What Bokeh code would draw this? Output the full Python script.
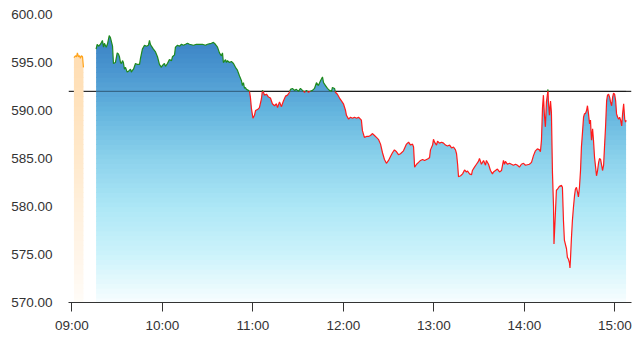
import numpy as np
from bokeh.plotting import figure
from bokeh.models import Span, FixedTicker, PrintfTickFormatter, ColumnDataSource
from bokeh.embed import file_html
from bokeh.resources import INLINE

# ---------------- data ----------------
REF = 592.0  # previous close

# minutes after 09:00
pre_t = [1.3, 2.3, 3.0, 3.6, 4.3, 5.0, 5.6, 6.3, 7.0, 7.6]
pre_v = [595.5, 595.7, 595.6, 596.0, 595.6, 595.7, 595.45, 595.7, 595.6, 594.5]

main_t = [16.0, 16.7, 17.6, 18.9, 20.2, 20.9, 21.5, 22.7, 23.5, 24.7, 25.5, 26.9, 27.5, 28.8, 30.0,
          30.8, 31.5, 32.2, 32.8, 33.5, 34.1, 34.8, 35.5, 36.6, 37.5, 38.8, 39.4, 40.1, 40.8, 42.1,
          43.4, 44.8, 45.4, 46.7, 48.1, 49.4, 50.7, 51.4, 52.0, 52.7, 54.0, 55.4, 56.7, 58.0, 59.3,
          60.0, 61.3, 62.0, 63.3, 64.6, 66.0, 66.6, 68.0, 68.6, 70.0, 71.3, 72.6, 73.9, 75.3, 76.6,
          77.9, 80.6, 82.5, 84.5, 86.5, 88.5, 89.8, 92.4, 93.8, 95.1, 96.5, 97.8, 99.1, 99.8, 100.4,
          101.8, 102.4, 103.1, 104.4, 105.7, 107.1, 108.4, 109.7, 111.1, 112.4, 113.0, 113.7, 114.4,
          115.0, 115.7, 117.0, 117.7, 118.3, 119.0, 120.0, 121.0, 121.7, 123.0, 124.3, 125.6, 126.3,
          127.0, 127.6, 129.0, 130.3, 131.6, 132.9, 134.3, 135.6, 136.3, 137.6, 138.9, 140.2, 141.6,
          142.9, 144.2, 144.9, 146.2, 147.5, 148.8, 150.2, 151.5, 152.8, 154.2, 155.5, 156.8, 158.1,
          159.5, 160.8, 162.1, 163.4, 164.8, 166.1, 166.8, 168.1, 169.4, 170.7, 172.1, 172.7, 174.1,
          174.7, 176.0, 177.4, 178.7, 180.0, 181.4, 182.0, 183.4, 184.7, 186.0, 187.3, 188.7, 190.0,
          191.3, 191.9, 192.6, 193.9, 195.3, 196.6, 197.9, 199.3, 200.6, 201.9, 203.2, 204.6, 205.9,
          207.2, 208.5, 209.9, 211.2, 212.5, 213.8, 215.2, 216.5, 217.8, 219.8, 221.8, 223.2, 224.5,
          225.8, 226.5, 227.2, 228.5, 229.8, 231.1, 232.5, 233.8, 235.1, 236.4, 237.1, 237.7, 239.1,
          239.7, 240.4, 241.7, 242.4, 243.7, 245.1, 246.4, 247.7, 249.0, 250.4, 251.7, 253.0, 254.3,
          255.0, 255.7, 256.3, 257.7, 259.0, 260.3, 261.6, 262.3, 263.6, 264.9, 265.5, 266.9, 268.2,
          269.5, 270.2, 271.5, 272.9, 274.2, 274.8, 276.2, 277.5, 278.8, 279.5, 280.8, 282.1, 283.5,
          284.8, 286.1, 286.8, 287.4, 288.8, 290.1, 291.4, 292.7, 294.1, 295.4, 296.7, 298.0, 299.4,
          300.7, 302.0, 303.3, 304.7, 306.0, 307.3, 308.6, 310.0, 310.6, 311.3, 312.0, 312.6, 313.3,
          313.9, 314.6, 315.3, 315.6, 315.9, 316.6, 317.3, 317.9, 318.6, 319.3, 319.6, 320.6, 321.2,
          321.9, 323.2, 324.6, 325.2, 325.9, 326.5, 327.9, 328.5, 329.2, 329.9, 330.2, 330.5, 331.2,
          331.8, 332.5, 333.2, 333.8, 334.5, 335.2, 335.8, 336.5, 337.2, 337.8, 338.5, 339.2, 339.8,
          340.5, 341.2, 341.8, 342.5, 343.2, 343.8, 344.2, 344.5, 345.2, 345.8, 346.5, 347.2, 347.8,
          348.5, 349.2, 349.8, 350.5, 351.1, 351.8, 352.5, 353.1, 353.8, 354.5, 355.1, 355.8, 356.5,
          357.1, 357.8, 358.5, 359.1, 359.8, 360.5, 361.1, 361.8, 362.5, 363.1, 363.8, 364.5, 365.1,
          365.8, 366.5, 367.1, 367.4]
main_v = [596.4, 596.9, 596.7, 596.9, 597.3, 596.6, 597.0, 596.6, 596.9, 597.8, 597.6, 596.7, 594.9, 595.0, 596.0,
          595.9, 595.6, 595.0, 594.9, 595.2, 595.0, 594.3, 594.5, 594.0, 594.1, 594.3, 594.0, 594.2, 594.3, 594.9,
          594.8, 594.8, 595.4, 596.4, 596.8, 596.7, 596.8, 597.3, 596.9, 596.7, 596.4, 596.1, 595.6, 594.8, 594.5,
          594.7, 594.9, 594.6, 594.9, 595.3, 595.2, 595.6, 595.8, 596.6, 596.8, 596.7, 596.9, 596.8, 596.9, 597.0,
          596.9, 596.8, 596.9, 596.9, 596.9, 596.8, 596.9, 597.0, 597.1, 596.9, 596.6, 596.0, 595.7, 596.0, 595.0,
          595.3, 595.0, 595.2, 595.0, 595.1, 594.9, 594.5, 594.2, 593.6, 593.1, 592.6, 592.9, 592.3,
          592.4, 592.2, 592.1, 592.0, 591.4, 590.2, 589.2, 589.5, 590.0, 590.1, 590.3, 591.2, 592.1,
          591.9, 591.6, 591.7, 591.4, 591.3, 590.7, 590.5, 590.7, 590.3, 590.9, 590.4, 591.0, 591.5,
          591.6, 591.9, 592.2, 592.3, 592.1, 592.2, 592.0, 592.3, 592.1, 591.9, 592.1, 591.9, 592.0,
          592.1, 592.3, 592.9, 592.6, 593.1, 593.5, 592.9, 592.6, 592.3, 592.1, 592.0, 592.4, 592.3,
          591.9, 591.7, 591.3, 591.0, 590.7, 590.0, 589.5, 589.1, 589.3, 589.2, 589.3, 589.2, 589.3,
          589.1, 589.0, 587.9, 587.2, 587.3, 587.3, 587.4, 587.6, 587.4, 587.2, 587.0, 586.5, 585.6,
          584.9, 584.5, 584.8, 585.2, 585.6, 585.9, 585.7, 585.4, 585.5, 585.8, 586.5, 586.7, 586.4,
          586.5, 586.2, 584.1, 584.4, 584.6, 584.8, 584.9, 584.8, 584.9, 585.0, 585.1, 585.9, 586.4,
          587.0, 586.7, 586.4, 586.8, 586.6, 586.7, 586.6, 586.4, 586.3, 586.4, 586.1, 586.2, 585.9,
          585.5, 584.4, 583.1, 583.2, 583.4, 583.8, 583.6, 583.7, 583.4, 583.3, 583.75, 584.1, 584.4,
          584.7, 585.0, 584.4, 584.8, 584.3, 584.8, 584.4, 583.75, 583.4, 583.6, 583.75, 583.9, 583.6,
          583.75, 584.8, 584.4, 584.7, 584.4, 584.5, 584.4, 584.3, 584.4, 584.3, 584.1, 584.4, 584.5,
          584.3, 584.35, 584.4, 584.6, 585.3, 585.8, 586.0, 585.9, 585.7, 586.9, 590.3, 591.6, 589.4,
          588.3, 590.9, 591.7, 592.2, 590.9, 589.5, 591.0, 589.8, 583.5, 580.0, 576.1, 579.5, 581.7,
          581.8, 582.1, 582.2, 582.0, 578.5, 576.5, 575.6, 574.7, 574.5, 574.1, 573.6, 574.4, 576.8,
          578.5, 579.9, 581.1, 581.8, 582.0, 581.5, 581.0, 582.0, 583.75, 586.2, 587.7, 589.3, 589.65,
          589.7, 590.0, 590.5, 589.65, 588.6, 589.0, 587.7, 586.9, 588.1, 586.9, 585.1, 584.1, 583.2,
          583.75, 584.6, 585.0, 584.9, 584.4, 583.75, 584.3, 586.2, 588.3, 591.0, 591.6, 591.7, 591.4,
          590.9, 590.5, 591.4, 591.8, 591.7, 591.0, 589.65, 589.3, 589.1, 589.3, 589.0, 588.4, 589.65,
          590.7, 589.1, 588.8, 589.0]

tick_minutes = [0, 60, 120, 180, 240, 300, 360]
tick_labels = ["09:00", "10:00", "11:00", "12:00", "13:00", "14:00", "15:00"]
y_ticks = [570, 575, 580, 585, 590, 595, 600]

Y0, Y1 = 570.0, 600.42
X0, X1 = -2.3, 371.0

# gradient stops (value -> rgb)
blue_stops = [(570, (248, 254, 255)), (572, (230, 249, 253)), (575, (205, 243, 251)),
              (580, (173, 231, 246)), (585, (140, 210, 236)), (590, (100, 181, 222)),
              (592, (88, 165, 215)), (595, (70, 145, 205)), (598, (58, 128, 196))]
orange_stops = [(570, (255, 252, 248)), (575, (255, 245, 233)), (580, (255, 240, 220)),
                (585, (255, 233, 204)), (590, (255, 227, 190)), (596, (255, 221, 178))]


def stop_color(stops, y):
    vals = [s[0] for s in stops]
    rgb = []
    for k in range(3):
        rgb.append(int(round(np.interp(y, vals, [s[1][k] for s in stops]))))
    return "#%02x%02x%02x" % tuple(rgb)


def insert_crossings(t, v, levels):
    tt = [t[0]]
    vv = [v[0]]
    for i in range(len(t) - 1):
        t0, v0, t1, v1 = t[i], v[i], t[i + 1], v[i + 1]
        cs = []
        for L in levels:
            if (v0 - L) * (v1 - L) < 0:
                cs.append(t0 + (L - v0) / (v1 - v0) * (t1 - t0))
        for c in sorted(cs):
            tt.append(c)
            vv.append(v0 + (c - t0) / (t1 - t0) * (v1 - v0))
        tt.append(t1)
        vv.append(v1)
    return np.array(tt), np.array(vv)


p = figure(width=641, height=349, output_backend="svg", toolbar_location=None,
           x_range=(X0, X1), y_range=(Y0, Y1),
           min_border_left=68, min_border_right=10, min_border_top=10, min_border_bottom=47)
p.outline_line_color = None
p.xgrid.visible = False
p.ygrid.visible = False
p.background_fill_color = "white"
p.border_fill_color = "white"

# reference line (under everything)
p.add_layout(Span(location=REF, dimension="width", line_color="black", line_width=1, level="underlay"))


def gradient_fill(t, v, stops, step=0.5, ov=0.08):
    t = np.asarray(t, float)
    v = np.asarray(v, float)
    lo = Y0
    while lo < v.max():
        hi = lo + step
        base = Y0 if lo <= Y0 else lo - ov
        tt, vv = insert_crossings(t, v, [base, hi])
        y2 = np.clip(vv, base, hi)
        y1 = np.full(len(tt), base)
        p.varea(x=tt, y1=y1, y2=y2, fill_color=stop_color(stops, lo + step / 2))
        lo = hi


gradient_fill(pre_t, pre_v, orange_stops)
gradient_fill(main_t, main_v, blue_stops)

# ref line seen through the blue area
p.segment(x0=[main_t[0]], x1=[main_t[-1]], y0=[REF], y1=[REF], line_color="black", line_alpha=0.45, line_width=1)

# pre-market line
p.line(pre_t, pre_v, line_color="#ffa31a", line_width=1.2)

# main line colored by ref
tt, vv = insert_crossings(main_t, main_v, [REF])
xs, ys, cols = [], [], []
cur_x, cur_y = [tt[0]], [vv[0]]
cur_up = (vv[0] + vv[1]) / 2 >= REF
for i in range(1, len(tt)):
    up = (vv[i - 1] + vv[i]) / 2 >= REF
    if up != cur_up:
        xs.append(cur_x); ys.append(cur_y); cols.append("#1e8a1e" if cur_up else "#ff1a1a")
        cur_x, cur_y = [tt[i - 1]], [vv[i - 1]]
        cur_up = up
    cur_x.append(tt[i]); cur_y.append(vv[i])
xs.append(cur_x); ys.append(cur_y); cols.append("#1e8a1e" if cur_up else "#ff1a1a")
p.multi_line(xs="xs", ys="ys", line_color="c", line_width=1.2,
             source=ColumnDataSource(dict(xs=xs, ys=ys, c=cols)))

# axes
xa = p.xaxis[0]
xa.ticker = FixedTicker(ticks=tick_minutes)
xa.major_label_overrides = {m: l for m, l in zip(tick_minutes, tick_labels)}
xa.axis_line_color = "#333333"
xa.major_tick_line_color = "#333333"
xa.major_tick_in = 0
xa.major_tick_out = 9
xa.minor_tick_line_color = None
xa.major_label_text_font = "Liberation Sans"
xa.major_label_text_font_size = "13.5px"
xa.major_label_text_color = "#333333"
xa.major_label_standoff = 6

ya = p.yaxis[0]
ya.ticker = FixedTicker(ticks=y_ticks)
ya.formatter = PrintfTickFormatter(format="%.2f")
ya.axis_line_color = None
ya.major_tick_line_color = None
ya.minor_tick_line_color = None
ya.major_tick_in = 0
ya.major_tick_out = 0
ya.major_label_text_font = "Liberation Sans"
ya.major_label_text_font_size = "13.5px"
ya.major_label_text_color = "#333333"
ya.major_label_standoff = 16

open("out.html", "w").write(file_html(p, INLINE))
